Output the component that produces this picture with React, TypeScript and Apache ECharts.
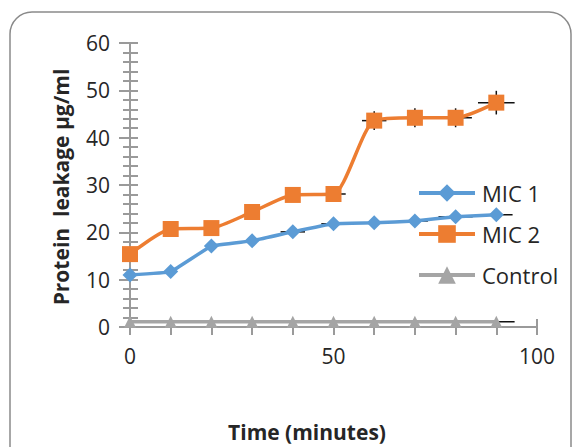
import React, { useEffect, useRef } from "react";
import * as echarts from "echarts";

const timeMinutes = [0, 10, 20, 30, 40, 50, 60, 70, 80, 90];
const mic1 = [11, 11.7, 17.1, 18.2, 20.1, 21.8, 22, 22.4, 23.3, 23.7];
const mic2 = [15.4, 20.7, 20.9, 24.3, 27.9, 28.1, 43.6, 44.2, 44.2, 47.4];
const control = [1.1, 1.1, 1.1, 1.1, 1.1, 1.1, 1.1, 1.1, 1.1, 1.1];

const mic1XErr = [0, 0, 0, 0, 3, 3, 3.2, 3.2, 4.2, 4];
const mic1YErr = [0, 0, 0, 0, 0, 0, 0, 0, 0, 0];
const mic2XErr = [0, 0, 0, 0, 0, 3, 3, 3, 4, 4.5];
const mic2YErr = [0, 0, 0, 0, 0, 0, 2, 2, 2, 2.5];
const controlXErr = [0, 0, 0, 0, 0, 0, 0, 0, 0, 4.5];
const controlYErr = [0, 0, 0, 0, 0, 0, 0, 0, 0, 0];

const yTicks = [0, 10, 20, 30, 40, 50, 60];
const xLabelValues = [0, 50, 100];

const FONT = "'Open Sans', sans-serif";
const TEXT = "#262626";
const AXIS = "#9a9a9a";

function pairs(ys: number[]) {
  return timeMinutes.map((x, i) => [x, ys[i]]);
}
function errData(ys: number[], xe: number[], ye: number[]) {
  return timeMinutes.map((x, i) => [x, ys[i], xe[i], ye[i]]);
}

export default function App() {
  const ref = useRef<HTMLDivElement>(null);
  useEffect(() => {
    if (!ref.current) return;
    const chart = echarts.init(ref.current, undefined, { renderer: "svg" });
    const renderErr = (params: any, api: any) => {
      const x = api.value(0);
      const y = api.value(1);
      const xe = api.value(2);
      const ye = api.value(3);
      const children: any[] = [];
      const st = { stroke: "#111", lineWidth: 1.5 };
      if (xe > 0) {
        const a = api.coord([x - xe, y]);
        const b = api.coord([x + xe, y]);
        children.push({ type: "line", shape: { x1: a[0], y1: a[1], x2: b[0], y2: b[1] }, style: st });
      }
      if (ye > 0) {
        const a = api.coord([x, y - ye]);
        const b = api.coord([x, y + ye]);
        children.push({ type: "line", shape: { x1: a[0], y1: a[1], x2: b[0], y2: b[1] }, style: st });
      }
      return { type: "group", children };
    };
    const yMax = yTicks[yTicks.length - 1];
    const xAxisBase = {
      type: "value",
      min: 0,
      max: 100,
      interval: 10,
      position: "bottom",
      axisLine: { show: true, onZero: false, lineStyle: { color: AXIS, width: 2 } },
      splitLine: { show: false },
    };
    const yAxisBase = {
      type: "value",
      min: 0,
      max: yMax,
      interval: 10,
      position: "left",
      axisLine: { show: true, lineStyle: { color: AXIS, width: 2 } },
      splitLine: { show: false },
      minorSplitLine: { show: false },
    };
    chart.setOption({
      animation: false,
      backgroundColor: "#ffffff",
      graphic: [
        {
          type: "rect",
          shape: { x: 10, y: 12, width: 561, height: 460, r: 22 },
          style: { fill: "none", stroke: "#8a8a8a", lineWidth: 1.5 },
          z: 0,
        },
        {
          type: "text",
          x: 307,
          y: 432,
          style: {
            text: "Time (minutes)",
            font: `bold 21px ${FONT}`,
            fill: TEXT,
            align: "center",
            verticalAlign: "middle",
          },
        },
        {
          type: "text",
          x: 61,
          y: 187,
          rotation: Math.PI / 2,
          style: {
            text: "Protein  leakage µg/ml",
            font: `bold 21px ${FONT}`,
            fill: TEXT,
            align: "center",
            verticalAlign: "middle",
          },
        },
      ],
      grid: { left: 130, right: 37, top: 43, bottom: 120, containLabel: false },
      xAxis: [
        {
          ...xAxisBase,
          axisTick: { show: true, inside: false, length: 8, lineStyle: { color: AXIS, width: 2 } },
          axisLabel: {
            show: true,
            margin: 18,
            color: TEXT,
            fontFamily: FONT,
            fontSize: 21,
            formatter: (v: number) => (xLabelValues.includes(v) ? String(v) : ""),
          },
        },
        {
          ...xAxisBase,
          axisTick: { show: true, inside: true, length: 8, lineStyle: { color: AXIS, width: 2 } },
          axisLabel: { show: false },
        },
      ],
      yAxis: [
        {
          ...yAxisBase,
          axisTick: { show: true, inside: false, length: 11, lineStyle: { color: AXIS, width: 2 } },
          minorTick: { show: true, splitNumber: 5, length: 7, lineStyle: { color: AXIS, width: 2 } },
          axisLabel: {
            show: true,
            margin: 20,
            color: TEXT,
            fontFamily: FONT,
            fontSize: 21,
            formatter: (v: number) => (yTicks.includes(v) ? String(v) : ""),
          },
        },
        {
          ...yAxisBase,
          axisTick: { show: true, inside: true, length: 8, lineStyle: { color: AXIS, width: 2 } },
          minorTick: { show: true, splitNumber: 5, length: 8, lineStyle: { color: AXIS, width: 2 } },
          axisLabel: { show: false },
        },
      ],
      legend: {
        orient: "vertical",
        left: 417,
        top: 182,
        padding: 0,
        itemWidth: 56,
        itemHeight: 22,
        itemGap: 19,
        lineStyle: { width: 4 },
        data: ["MIC 1", "MIC 2", "Control"],
        textStyle: { color: TEXT, fontFamily: FONT, fontSize: 22, lineHeight: 22, padding: [0, 0, 0, 2] },
      },
      series: [
        {
          type: "custom",
          name: "errMIC1",
          renderItem: renderErr,
          data: errData(mic1, mic1XErr, mic1YErr),
          encode: { x: 0, y: 1 },
          z: 1,
          silent: true,
        },
        {
          type: "custom",
          name: "errMIC2",
          renderItem: renderErr,
          data: errData(mic2, mic2XErr, mic2YErr),
          encode: { x: 0, y: 1 },
          z: 1,
          silent: true,
        },
        {
          type: "custom",
          name: "errControl",
          renderItem: renderErr,
          data: errData(control, controlXErr, controlYErr),
          encode: { x: 0, y: 1 },
          z: 1,
          silent: true,
        },
        {
          type: "line",
          name: "Control",
          data: pairs(control),
          symbol: "triangle",
          symbolSize: 12,
          color: "#a5a5a5",
          lineStyle: { width: 3.5, color: "#a5a5a5" },
          itemStyle: { color: "#a5a5a5" },
          z: 2,
        },
        {
          type: "line",
          name: "MIC 1",
          data: pairs(mic1),
          symbol: "diamond",
          symbolSize: 15,
          smooth: 0.08,
          color: "#5b9bd5",
          lineStyle: { width: 3.5, color: "#5b9bd5" },
          itemStyle: { color: "#5b9bd5" },
          z: 3,
        },
        {
          type: "line",
          name: "MIC 2",
          data: pairs(mic2),
          symbol: "rect",
          symbolSize: 16,
          smooth: 0.22,
          color: "#ed7d31",
          lineStyle: { width: 3.5, color: "#ed7d31" },
          itemStyle: { color: "#ed7d31" },
          z: 4,
        },
      ],
    });
    return () => chart.dispose();
  }, []);
  return (
    <div
      ref={ref}
      style={{ position: "fixed", left: 0, top: 0, width: 574, height: 447, background: "#fff" }}
    />
  );
}
